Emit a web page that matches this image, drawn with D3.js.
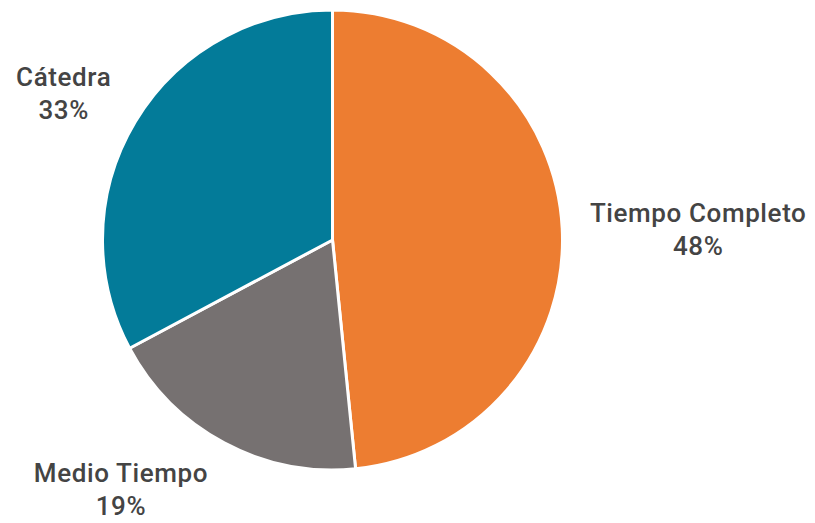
<!DOCTYPE html>
<html>
<head>
<meta charset="utf-8">
<script src="https://cdn.jsdelivr.net/npm/d3@7"></script>
<style>
  body { margin: 0; background: #fff; }
  .lbl { font-family: "Roboto", "DejaVu Sans", sans-serif; font-size: 26px; font-weight: 500; letter-spacing: 0.6px; fill: #444; }
</style>
</head>
<body>
<div id="chart"></div>
<script>
// data
var categories = ["Tiempo Completo", "Medio Tiempo", "Cátedra"];
var values = [48.4, 18.8, 32.8];
var colors = ["#ED7D31", "#767171", "#037B99"];

var width = 815, height = 523;
var cx = 332.5, cy = 240, radius = 230;

var svg = d3.select("#chart").append("svg")
  .attr("width", width)
  .attr("height", height);

var g = svg.append("g").attr("transform", "translate(" + cx + "," + cy + ")");

var pie = d3.pie().sort(null).value(function(d) { return d; });
var arc = d3.arc().innerRadius(0).outerRadius(radius);
var labelArc = d3.arc().innerRadius(radius + 24).outerRadius(radius + 24);

var arcs = pie(values);

g.selectAll("path.slice")
  .data(arcs)
  .enter().append("path")
  .attr("class", "slice")
  .attr("d", arc)
  .attr("fill", function(d, i) { return colors[i]; })
  .attr("stroke", "#fff")
  .attr("stroke-width", 3)
  .attr("stroke-linejoin", "round");

// label nudges (layout only)
var nudge = [[112, -4], [-92, 19], [-51, -22]];

var lbl = g.selectAll("text.lbl")
  .data(arcs)
  .enter().append("text")
  .attr("class", "lbl")
  .attr("text-anchor", "middle")
  .attr("transform", function(d, i) {
    var c = labelArc.centroid(d);
    return "translate(" + (c[0] + nudge[i][0]) + "," + (c[1] + nudge[i][1]) + ")";
  });

lbl.append("tspan")
  .attr("x", 0).attr("dy", "-0.05em")
  .text(function(d, i) { return categories[i]; });
lbl.append("tspan")
  .attr("x", 0).attr("dy", "1.28em")
  .text(function(d) { return Math.round(d.data) + "%"; });
</script>
</body>
</html>
